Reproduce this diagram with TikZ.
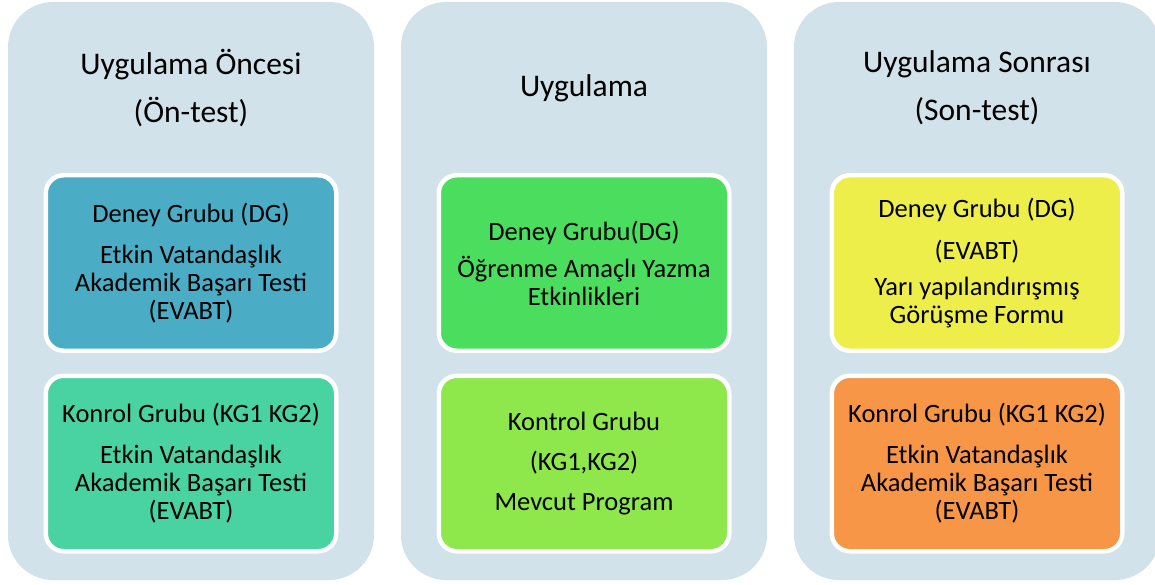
\documentclass[tikz,border=0pt]{standalone}
\usepackage{fontspec}
\setmainfont{Carlito}
\definecolor{panelbg}{HTML}{D1E2EA}
\definecolor{cteal}{HTML}{4BACC6}
\definecolor{cmint}{HTML}{4AD3A2}
\definecolor{cgreen}{HTML}{4ADD5E}
\definecolor{clime}{HTML}{8EE84B}
\definecolor{cyellow}{HTML}{EEEE4A}
\definecolor{corange}{HTML}{F79646}
\tikzset{
  panel/.style={fill=panelbg, draw=none, rounded corners=45pt},
  groupbox/.style={draw=white, line width=4.5pt, rounded corners=18pt,
    minimum width=290.5pt, minimum height=175.5pt, inner sep=0pt},
  boxtext/.style={align=center, font=\fontsize{26.5}{28}\selectfont, inner sep=0pt},
  titletext/.style={align=center, font=\fontsize{31.5}{48}\selectfont, inner sep=0pt}
}
\begin{document}
\begin{tikzpicture}[x=1pt, y=-1pt]
\useasboundingbox (0,0) rectangle (1155,585);
\fill[white] (0,0) rectangle (1155,585);

% three phase panels
\path[panel] (8,2) rectangle (374,580);
\path[panel] (401,2) rectangle (767,580);
\path[panel] (794,2) rectangle (1160,580);

% titles
\node[titletext] (t1) at (191,88) {Uygulama Öncesi\\(Ön-test)};
\node[titletext] (t2) at (584,88) {Uygulama};
\node[titletext] (t3) at (977,88) {Uygulama Sonrası\\(Son-test)};

% group boxes
\node[groupbox, fill=cteal]   (b11) at (191,263) {};
\node[groupbox, fill=cmint]   (b12) at (191,463.5) {};
\node[groupbox, fill=cgreen]  (b21) at (584,263) {};
\node[groupbox, fill=clime]   (b22) at (584,463.5) {};
\node[groupbox, fill=cyellow] (b31) at (977,263) {};
\node[groupbox, fill=corange] (b32) at (977,463.5) {};

% box contents
\node[boxtext] (x11) at (b11.center) {Deney Grubu (DG)\\[13pt]Etkin Vatandaşlık\\Akademik Başarı Testi\\(EVABT)};
\node[boxtext] (x12) at (b12.center) {Konrol Grubu (KG1 KG2)\\[13pt]Etkin Vatandaşlık\\Akademik Başarı Testi\\(EVABT)};
\node[boxtext] (x21) at (b21.center) {Deney Grubu(DG)\\[9pt]Öğrenme Amaçlı Yazma\\Etkinlikleri};
\node[boxtext] (x22) at (b22.center) {Kontrol Grubu\\[12pt](KG1,KG2)\\[12pt]Mevcut Program};
\node[boxtext] (x31) at (b31.center) {Deney Grubu (DG)\\[14pt](EVABT)\\[8pt]Yarı yapılandırışmış\\Görüşme Formu};
\node[boxtext] (x32) at (b32.center) {Konrol Grubu (KG1 KG2)\\[13pt]Etkin Vatandaşlık\\Akademik Başarı Testi\\(EVABT)};
\end{tikzpicture}
\end{document}
